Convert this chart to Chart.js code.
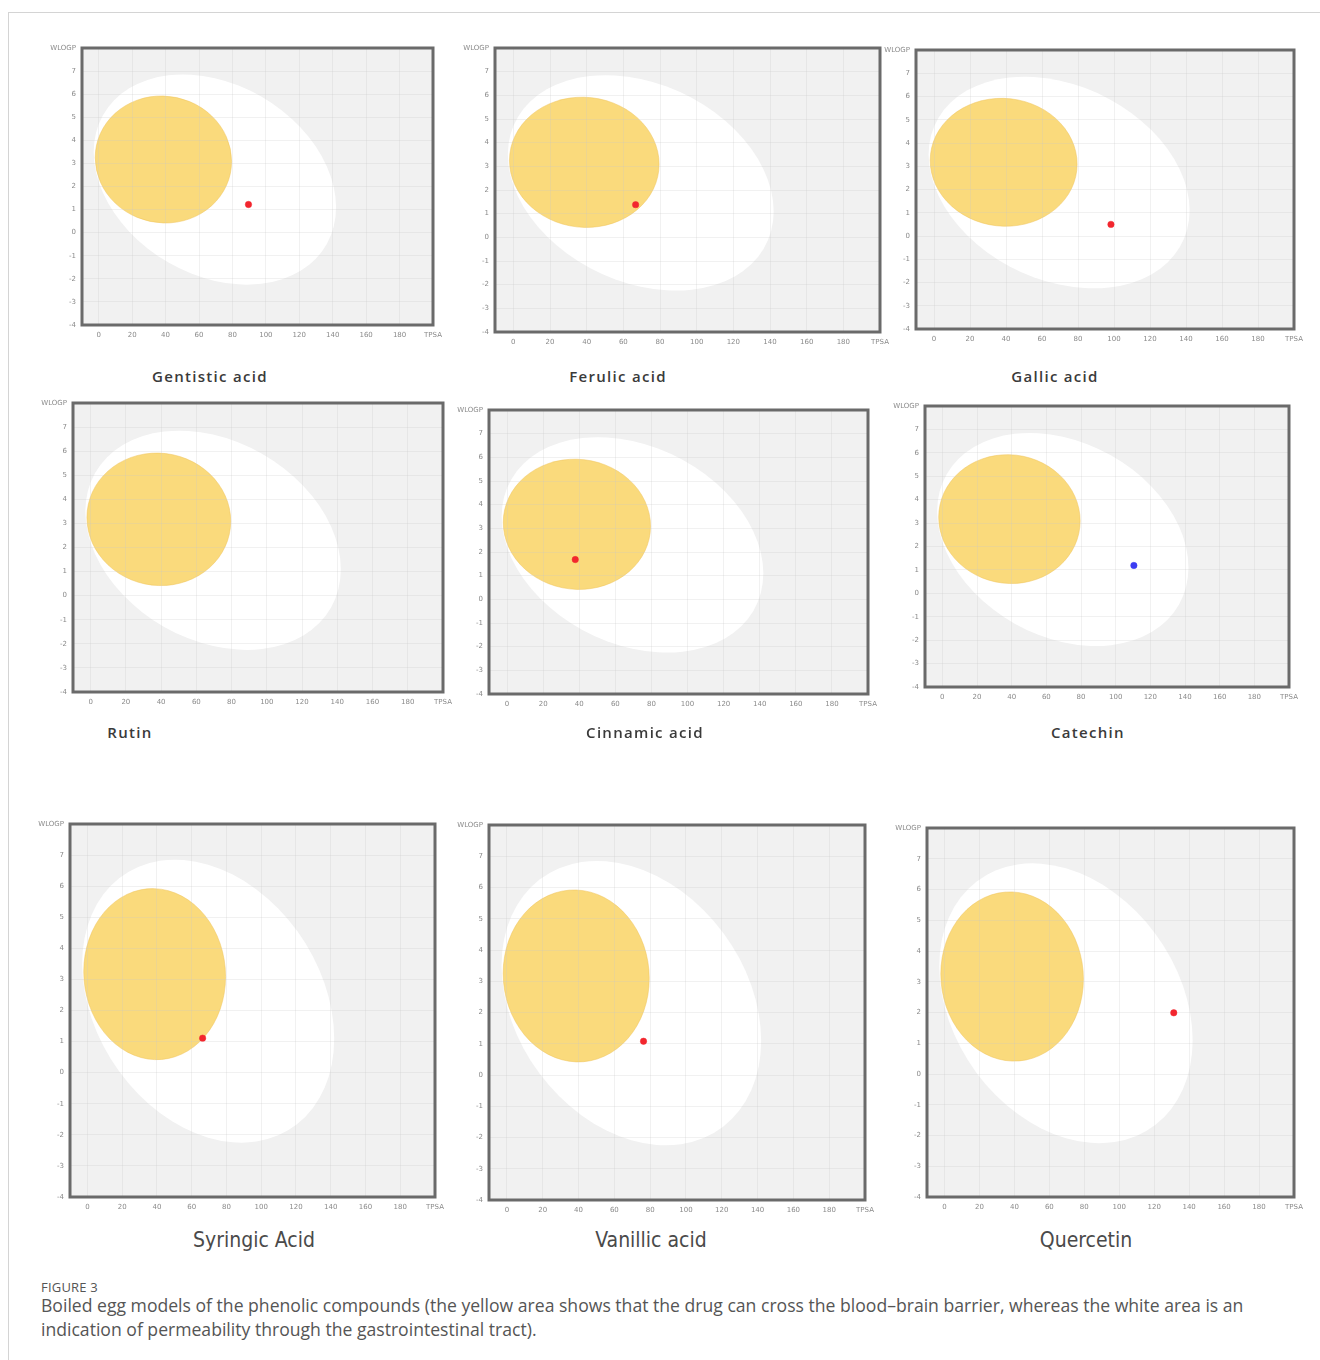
<!DOCTYPE html>
<html>
<head>
<meta charset="utf-8">
<script src="https://cdn.jsdelivr.net/npm/chart.js@4.4.1/dist/chart.umd.min.js"></script>
<style>
  html, body { margin: 0; padding: 0; background: #ffffff; }
  body { width: 1320px; height: 1360px; position: relative; overflow: hidden; }
  .frame { position: absolute; left: 8px; top: 12px; width: 1400px; height: 1400px;
           border-top: 1px solid #d4d4d4; border-left: 1px solid #d4d4d4; }
  .panel { position: absolute; }
  .panel canvas { filter: blur(0.55px); }
  .name { position: absolute; transform: translate(-50%, -50%); white-space: nowrap;
          color: #3a3a3a; }
  .name.bold { font-family: "Open Sans", sans-serif; font-weight: 600; font-size: 15px;
               letter-spacing: 1.3px; }
  .name.narrow { font-family: "Liberation Sans Narrow", "DejaVu Sans Condensed", sans-serif;
                 font-size: 21px; color: #4a4a4a; }
  .fig { position: absolute; left: 41px; top: 1278px; font-family: "Open Sans", sans-serif;
         font-size: 13px; color: #555; letter-spacing: 0.2px; }
  .cap { position: absolute; left: 41px; top: 1293px; width: 1240px;
         font-family: "Open Sans", sans-serif; font-size: 17.6px; line-height: 24px;
         color: #555; font-weight: 400; }
</style>
</head>
<body>
<div class="frame"></div>
<div id="root"></div>
<div class="fig">FIGURE 3</div>
<div class="cap">Boiled egg models of the phenolic compounds (the yellow area shows that the drug can cross the blood–brain barrier, whereas the white area is an indication of permeability through the gastrointestinal tract).</div>

<script>
// ---- compounds and their (TPSA, WLOGP) coordinates ----
const COMPOUNDS = ['Gentistic acid', 'Ferulic acid', 'Gallic acid',
                   'Rutin', 'Cinnamic acid', 'Catechin',
                   'Syringic Acid', 'Vanillic acid', 'Quercetin'];
const TPSA_VALUES  = [89.6, 66.7, 98.3, null, 37.8, 110.5, 66.3, 76.3, 131.2];
const WLOGP_VALUES = [1.22, 1.38, 0.50, null, 1.68, 1.19, 1.11, 1.08, 1.99];
// P-gp substrates are plotted in blue, non-substrates in red
const PGP_SUBSTRATE = [false, false, false, false, false, true, false, false, false];

// ---- axis ticks ----
const X_TICKS = [0, 20, 40, 60, 80, 100, 120, 140, 160, 180, 200];
const Y_TICKS = [-4, -3, -2, -1, 0, 1, 2, 3, 4, 5, 6, 7, 8];
const X_TITLE = 'TPSA';
const Y_TITLE = 'WLOGP';

// ---- egg regions: centre plus conjugate half-axes (TPSA, WLOGP units) ----
const WHITE_CENTER = [69.5, 2.3];
const WHITE_U = [72.5, -1.2];
const WHITE_V = [0, 4.39];
const YOLK_CENTER = [38.7, 3.17];
const YOLK_U = [40.8, -0.08];
const YOLK_V = [0, 2.75];

// ---- layout: plot-area box of each panel and title placement ----
const BOXES = [
  [82, 48, 433, 325], [495, 48, 880, 332], [916, 50, 1294, 329],
  [73, 403, 443, 692], [489, 410, 868, 694], [925, 406, 1289, 687],
  [70, 824, 435, 1197], [489, 825, 865, 1200], [927, 828, 1294, 1197]
];
const TITLE_POS = [
  [210, 376], [618, 376], [1055, 376],
  [130, 732], [645, 732], [1088, 732],
  [254, 1240], [651, 1240], [1086, 1240]
];

const PAD_L = 42, PAD_T = 12, PAD_R = 20, PAD_B = 22;

function fillEgg(ctx, xs, ys, c, u, v, fill, stroke) {
  const px = xs.getPixelForValue(c[0]);
  const py = ys.getPixelForValue(c[1]);
  const sx = xs.getPixelForValue(1) - xs.getPixelForValue(0);
  const sy = ys.getPixelForValue(1) - ys.getPixelForValue(0);
  ctx.save();
  ctx.translate(px, py);
  ctx.transform(u[0] * sx, u[1] * sy, v[0] * sx, v[1] * sy, 0, 0);
  ctx.beginPath();
  ctx.arc(0, 0, 1, 0, Math.PI * 2);
  ctx.restore();
  ctx.fillStyle = fill;
  ctx.fill();
  if (stroke) {
    ctx.strokeStyle = stroke;
    ctx.lineWidth = 1;
    ctx.stroke();
  }
}

// background, white and yolk regions go under the grid
const eggPlugin = {
  id: 'egg',
  beforeDraw(chart) {
    const { ctx, chartArea: a, scales } = chart;
    ctx.save();
    ctx.beginPath();
    ctx.rect(a.left, a.top, a.right - a.left, a.bottom - a.top);
    ctx.clip();
    ctx.fillStyle = '#f1f1f1';
    ctx.fillRect(a.left, a.top, a.right - a.left, a.bottom - a.top);
    fillEgg(ctx, scales.x, scales.y, WHITE_CENTER, WHITE_U, WHITE_V, '#ffffff', null);
    fillEgg(ctx, scales.x, scales.y, YOLK_CENTER, YOLK_U, YOLK_V, 'rgb(250,218,124)', 'rgba(240,196,92,0.5)');
    ctx.restore();
  },
  afterDatasetsDraw(chart) {
    const { ctx, chartArea: a } = chart;
    ctx.save();
    ctx.strokeStyle = '#6a6a6a';
    ctx.lineWidth = 3;
    ctx.strokeRect(a.left, a.top, a.right - a.left, a.bottom - a.top);
    ctx.restore();
  }
};

const root = document.getElementById('root');

COMPOUNDS.forEach((name, i) => {
  const [l, t, r, b] = BOXES[i];
  const w = (r - l) + PAD_L + PAD_R;
  const h = (b - t) + PAD_T + PAD_B;
  const div = document.createElement('div');
  div.className = 'panel';
  div.style.left = (l - PAD_L) + 'px';
  div.style.top = (t - PAD_T) + 'px';
  div.style.width = w + 'px';
  div.style.height = h + 'px';
  const cv = document.createElement('canvas');
  div.appendChild(cv);
  root.appendChild(div);

  const title = document.createElement('div');
  title.className = 'name ' + (i >= 6 ? 'narrow' : 'bold');
  title.style.left = TITLE_POS[i][0] + 'px';
  title.style.top = TITLE_POS[i][1] + 'px';
  title.textContent = name;
  document.body.appendChild(title);

  const points = TPSA_VALUES[i] === null ? [] : [{ x: TPSA_VALUES[i], y: WLOGP_VALUES[i] }];
  const dotColor = PGP_SUBSTRATE[i] ? '#3b3cf2' : '#f2262e';

  new Chart(cv, {
    type: 'scatter',
    data: {
      datasets: [{
        data: points,
        pointRadius: 3.2,
        pointBackgroundColor: dotColor,
        pointBorderColor: dotColor,
        pointBorderWidth: 0.5
      }]
    },
    options: {
      responsive: true,
      maintainAspectRatio: false,
      animation: false,
      events: [],
      layout: { padding: { left: 0, top: PAD_T, right: PAD_R, bottom: 0 } },
      plugins: { legend: { display: false }, tooltip: { enabled: false } },
      scales: {
        x: {
          type: 'linear',
          min: -10, max: 200,
          afterBuildTicks: s => { s.ticks = X_TICKS.map(v => ({ value: v })); },
          afterFit: s => { s.height = PAD_B; },
          grid: { color: 'rgba(200,200,200,0.25)', lineWidth: 1, drawTicks: false },
          border: { display: false },
          ticks: {
            autoSkip: false, maxRotation: 0, padding: 6,
            font: { family: 'DejaVu Sans', size: 7 }, color: '#8a8a8a',
            callback: v => (v === 200 ? X_TITLE : String(v))
          }
        },
        y: {
          type: 'linear',
          min: -4, max: 8,
          afterBuildTicks: s => { s.ticks = Y_TICKS.map(v => ({ value: v })); },
          afterFit: s => { s.width = PAD_L; },
          grid: { color: 'rgba(200,200,200,0.25)', lineWidth: 1, drawTicks: false },
          border: { display: false },
          ticks: {
            autoSkip: false, padding: 6,
            font: { family: 'DejaVu Sans', size: 7 }, color: '#8a8a8a',
            callback: v => (v === 8 ? Y_TITLE : String(v))
          }
        }
      }
    },
    plugins: [eggPlugin]
  });
});
</script>
</body>
</html>
